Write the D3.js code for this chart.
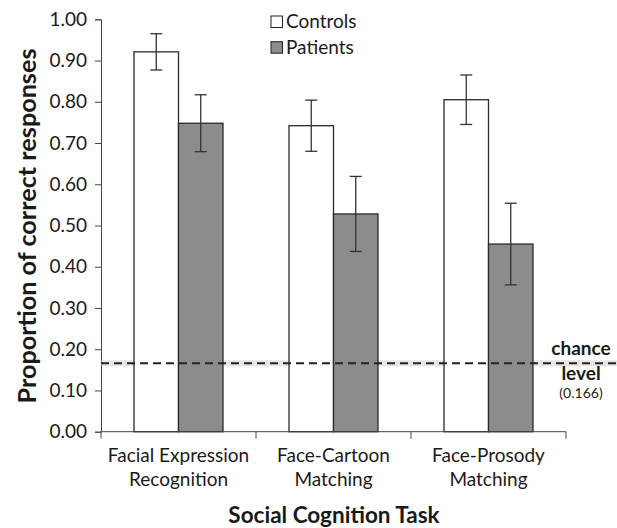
<!DOCTYPE html>
<html><head><meta charset="utf-8">
<script src="https://cdn.jsdelivr.net/npm/d3@7"></script>
<style>body{margin:0;background:#fff}svg{display:block}text{font-family:Lato,"Open Sans",sans-serif;fill:#1a1a1a}</style>
</head><body><svg id="c" width="617" height="528"></svg>
<script>
const categories = [["Facial Expression","Recognition"],["Face-Cartoon","Matching"],["Face-Prosody","Matching"]];
const seriesNames = ["Controls","Patients"];
const controls = [0.921, 0.742, 0.805];
const controlsErr = [0.044, 0.062, 0.060];
const patients = [0.748, 0.528, 0.455];
const patientsErr = [0.069, 0.091, 0.099];
const yTicks = [0,0.1,0.2,0.3,0.4,0.5,0.6,0.7,0.8,0.9,1.0];
const chance = 0.166;

const svg = d3.select("#c");
const L=101, R=566, T=19.3, B=431.7;
const x = d3.scaleBand().domain(d3.range(categories.length)).range([L,R]).paddingInner(0).paddingOuter(0);
const y = d3.scaleLinear().domain([0,1]).range([B,T]);
const inner = d3.scaleBand().domain([0,1]).range([0,x.bandwidth()]).paddingOuter(0.742).paddingInner(0);

// y axis
const ya = svg.append("g").attr("transform",`translate(${L},0)`)
  .call(d3.axisLeft(y).tickValues(yTicks).tickFormat(d3.format(".2f")).tickSize(6).tickPadding(8));
ya.select(".domain").attr("stroke","#444");
ya.selectAll(".tick line").attr("stroke","#444");
ya.selectAll("text").attr("font-size",19).attr("font-family","Lato, sans-serif").attr("fill","#1a1a1a");

const data = [];
categories.forEach((c,i)=>{
  data.push({i,s:0,v:controls[i],e:controlsErr[i]});
  data.push({i,s:1,v:patients[i],e:patientsErr[i]});
});
// chance glow under
svg.append("line").attr("x1",L).attr("x2",617).attr("y1",y(chance)).attr("y2",y(chance))
  .attr("stroke","#ccc").attr("stroke-width",6).attr("opacity",0.45);

svg.selectAll("rect.bar").data(data).join("rect").attr("class","bar")
  .attr("x",d=>x(d.i)+inner(d.s)).attr("width",inner.bandwidth())
  .attr("y",d=>y(d.v)).attr("height",d=>B-y(d.v))
  .attr("fill",d=>d.s===0?"#ffffff":"#8c8c8c").attr("stroke","#2a2a2a").attr("stroke-width",1.3);

// chance line
svg.append("line").attr("x1",L).attr("x2",617).attr("y1",y(chance)).attr("y2",y(chance))
  .attr("stroke","#222").attr("stroke-width",2).attr("stroke-dasharray","8,5");

// error bars
const eb = svg.selectAll("g.eb").data(data).join("g").attr("class","eb")
  .attr("transform",d=>`translate(${x(d.i)+inner(d.s)+inner.bandwidth()/2},0)`);
eb.append("line").attr("y1",d=>y(d.v+d.e)).attr("y2",d=>y(d.v-d.e)).attr("stroke","#333").attr("stroke-width",1.3);
eb.append("line").attr("x1",-6).attr("x2",6).attr("y1",d=>y(d.v+d.e)).attr("y2",d=>y(d.v+d.e)).attr("stroke","#333").attr("stroke-width",1.3);
eb.append("line").attr("x1",-6).attr("x2",6).attr("y1",d=>y(d.v-d.e)).attr("y2",d=>y(d.v-d.e)).attr("stroke","#333").attr("stroke-width",1.3);

// x axis
const xa = svg.append("g").attr("transform",`translate(0,${B})`);
xa.append("line").attr("x1",L).attr("x2",R).attr("stroke","#444");
xa.selectAll("line.t").data(d3.range(categories.length+1)).join("line").attr("class","t")
  .attr("x1",d=>L+d*x.bandwidth()).attr("x2",d=>L+d*x.bandwidth()).attr("y1",0).attr("y2",7).attr("stroke","#444");
categories.forEach((c,i)=>{
  const cx = x(i)+x.bandwidth()/2;
  c.forEach((line,k)=>{
    svg.append("text").attr("x",cx).attr("y",462+k*23.5).attr("text-anchor","middle").attr("font-size",19).text(line);
  });
});

// titles
svg.append("text").attr("x",334).attr("y",523).attr("text-anchor","middle").attr("font-size",22.5).attr("font-weight","bold").text("Social Cognition Task");
svg.append("text").attr("transform","translate(36,226) rotate(-90)").attr("text-anchor","middle").attr("font-size",25.2).attr("font-weight","bold").text("Proportion of correct responses");

// legend
seriesNames.forEach((n,k)=>{
  const ly = 16 + k*25.7;
  svg.append("rect").attr("x",271).attr("y",ly).attr("width",11.5).attr("height",11.5)
    .attr("fill",k===0?"#fff":"#8c8c8c").attr("stroke","#222").attr("stroke-width",1);
  svg.append("text").attr("x",286).attr("y",ly+12).attr("font-size",19).text(n);
});

// chance label
svg.append("text").attr("x",581).attr("y",355).attr("text-anchor","middle").attr("font-size",19).attr("font-weight","bold").text("chance");
svg.append("text").attr("x",581).attr("y",380).attr("text-anchor","middle").attr("font-size",19).attr("font-weight","bold").text("level");
svg.append("text").attr("x",581).attr("y",397.5).attr("text-anchor","middle").attr("font-size",14).text("(" + chance + ")");
</script></body></html>
